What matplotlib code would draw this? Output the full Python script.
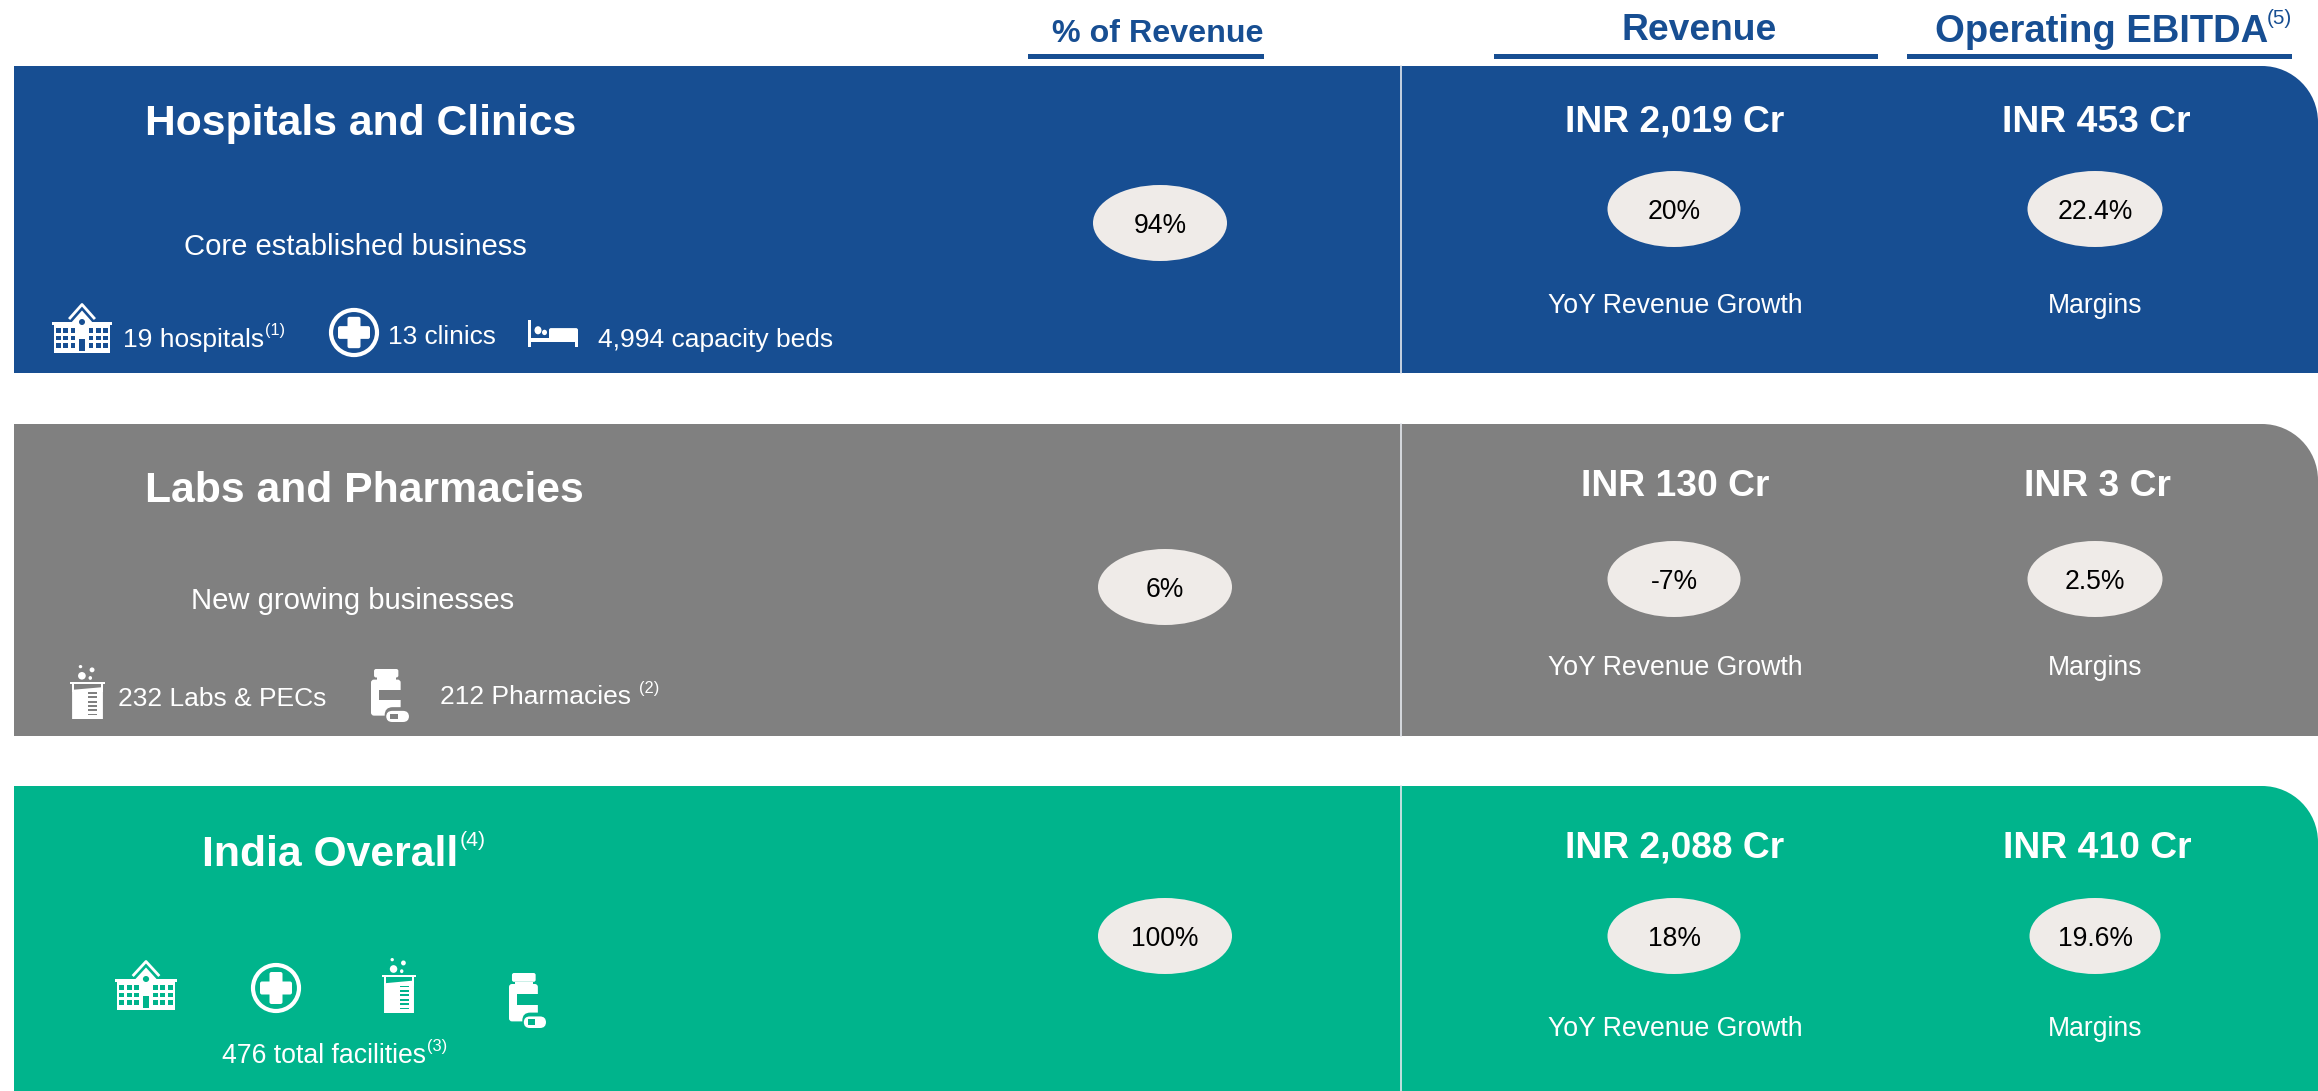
import matplotlib
matplotlib.use("Agg")
import matplotlib.pyplot as plt
from matplotlib.patches import Ellipse, FancyBboxPatch, PathPatch, Polygon, Rectangle
from matplotlib.path import Path

plt.rcParams["font.family"] = ["Liberation Sans", "DejaVu Sans"]

# ---------------------------------------
# Chart values
# ---------------------------------------

segments = ["Hospitals and Clinics", "Labs and Pharmacies", "India Overall"]
subtitles = ["Core established business", "New growing businesses", ""]
revenue_share = ["94%", "6%", "100%"]
revenue = ["INR 2,019 Cr", "INR 130 Cr", "INR 2,088 Cr"]
ebitda = ["INR 453 Cr", "INR 3 Cr", "INR 410 Cr"]
growth = ["20%", "-7%", "18%"]
margins = ["22.4%", "2.5%", "19.6%"]
growth_label = "YoY Revenue Growth"
margin_label = "Margins"

BLUE = "#174E92"
GRAY = "#808080"
GREEN = "#00B48C"
PILL = "#EFEBE8"
panel_colors = [BLUE, GRAY, GREEN]

W, H = 2318, 1091
PX = 0.72  # px to points at dpi 100

fig = plt.figure(figsize=(W / 100, H / 100), dpi=100)
ax = fig.add_axes([0, 0, 1, 1])
ax.set_xlim(0, W)
ax.set_ylim(H, 0)
ax.axis("off")
renderer = fig.canvas.get_renderer()


def put(x, y, s, px, color="white", weight="normal", ha="center", sup=None, sup_gap=1, sup_scale=0.62):
    t = ax.text(x, y, s, fontsize=px * PX, color=color, fontweight=weight,
                ha=ha, va="center_baseline", zorder=5)
    if sup:
        bb = t.get_window_extent(renderer)
        ax.text(bb.x1 + sup_gap, y - px * 0.3, sup, fontsize=px * sup_scale * PX, color=color,
                ha="left", va="center_baseline", zorder=5)
    return t


def panel(top, bottom, color):
    x0, x1, r = 14, W, 56
    k = 0.55 * r
    verts = [(x0, top), (x1 - r, top), (x1 - r + k, top), (x1, top + r - k), (x1, top + r),
             (x1, bottom), (x0, bottom), (x0, top)]
    codes = [Path.MOVETO, Path.LINETO, Path.CURVE4, Path.CURVE4, Path.CURVE4,
             Path.LINETO, Path.LINETO, Path.CLOSEPOLY]
    ax.add_patch(PathPatch(Path(verts, codes), fc=color, ec="none", zorder=1))
    ax.plot([1401, 1401], [top, bottom], color="#E4E8EE", lw=1.2, zorder=2)


def pill(x, y, w, h, s):
    ax.add_patch(Ellipse((x, y), w, h, fc=PILL, ec="none", zorder=3))
    ax.text(x, y, s, fontsize=26.5 * PX, color="black", ha="center", va="center_baseline", zorder=5)


# ---------------------------------------
# Icons, drawn in a 0-1 box
# ---------------------------------------

def boxer(x0, y0, x1, y1):
    return lambda u, v: (x0 + u * (x1 - x0), y0 + v * (y1 - y0))


def rect(m, u0, v0, u1, v1, color="white"):
    a = m(u0, v0)
    b = m(u1, v1)
    ax.add_patch(Rectangle(a, b[0] - a[0], b[1] - a[1], fc=color, ec="none", zorder=4))


def round_rect(m, u0, v0, u1, v1, pad, color="white"):
    a = m(u0, v0)
    b = m(u1, v1)
    ax.add_patch(FancyBboxPatch(a, b[0] - a[0], b[1] - a[1], boxstyle=f"round,pad=0,rounding_size={pad}",
                                fc=color, ec="none", zorder=4))


def oval(m, u, v, du, dv, fc="white", ec="none", lw=0):
    c = m(u, v)
    a = m(0, 0)
    b = m(1, 1)
    ax.add_patch(Ellipse(c, du * (b[0] - a[0]), dv * (b[1] - a[1]), fc=fc, ec=ec, lw=lw, zorder=4))


def hospital(x0, y0, x1, y1, bg):
    m = boxer(x0, y0, x1, y1)
    ax.plot(*zip(m(0.30, 0.30), m(0.50, 0.03), m(0.70, 0.30)), color="white", lw=2, zorder=4)
    ax.add_patch(Polygon([m(0.33, 0.38), m(0.50, 0.15), m(0.67, 0.38), m(0.67, 0.5), m(0.33, 0.5)],
                         fc="white", ec="none", zorder=4))
    rect(m, 0, 0.38, 1, 0.44)
    rect(m, 0.03, 0.44, 0.97, 1)
    oval(m, 0.5, 0.38, 0.1, 0.12, fc=bg)
    for u in [0.07, 0.19, 0.31, 0.61, 0.73, 0.85]:
        for v in [0.50, 0.65, 0.80]:
            rect(m, u, v, u + 0.08, v + 0.09, bg)
    rect(m, 0.45, 0.72, 0.55, 0.95, bg)


def clinic(x0, y0, x1, y1, bg):
    m = boxer(x0, y0, x1, y1)
    oval(m, 0.5, 0.5, 0.92, 0.92, fc=bg, ec="white", lw=3)
    round_rect(m, 0.18, 0.37, 0.82, 0.63, 2)
    round_rect(m, 0.37, 0.18, 0.63, 0.82, 2)


def bed(x0, y0, x1, y1, bg):
    m = boxer(x0, y0, x1, y1)
    rect(m, 0, 0, 0.06, 1)
    rect(m, 0.06, 0.68, 1, 0.80)
    rect(m, 0.94, 0.68, 1, 1)
    round_rect(m, 0.42, 0.30, 1, 0.80, 2)
    oval(m, 0.2, 0.38, 0.14, 0.3)
    oval(m, 0.33, 0.46, 0.1, 0.2)


def beaker(x0, y0, x1, y1, bg):
    m = boxer(x0, y0, x1, y1)
    oval(m, 0.30, 0.03, 0.1, 0.06)
    oval(m, 0.63, 0.09, 0.14, 0.09)
    oval(m, 0.34, 0.20, 0.22, 0.14)
    oval(m, 0.58, 0.24, 0.1, 0.07)
    rect(m, 0, 0.31, 1, 0.35)
    rect(m, 0.06, 0.35, 0.11, 0.50)
    rect(m, 0.89, 0.35, 0.94, 0.50)
    ax.add_patch(Polygon([m(0.06, 0.46), m(0.94, 0.41), m(0.94, 1), m(0.06, 1)], fc="white", ec="none", zorder=4))
    for v in [0.50, 0.58, 0.66, 0.74, 0.82, 0.90]:
        rect(m, 0.52, v, 0.78, v + 0.035, bg)


def bottle(x0, y0, x1, y1, bg):
    m = boxer(x0, y0, x1, y1)
    round_rect(m, 0.08, 0, 0.72, 0.16, 2)
    rect(m, 0.15, 0.16, 0.65, 0.21)
    round_rect(m, 0, 0.20, 0.78, 0.88, 3)
    rect(m, 0.22, 0.39, 0.78, 0.59, bg)
    round_rect(m, 0.36, 0.72, 1.02, 1.02, 8, bg)
    round_rect(m, 0.40, 0.79, 1, 1, 6)
    rect(m, 0.50, 0.84, 0.70, 0.95, bg)


# ---------------------------------------
# Column headers
# ---------------------------------------

put(1158, 31, "% of Revenue", 32.3, color=BLUE, weight="bold")
put(1699, 27, "Revenue", 37.3, color=BLUE, weight="bold")
put(1935, 28, "Operating EBITDA", 38.2, color=BLUE, weight="bold", ha="left", sup="(5)", sup_gap=-1, sup_scale=0.54)
for a, b in [(1028, 1264), (1494, 1878), (1907, 2292)]:
    ax.add_patch(Rectangle((a, 54), b - a, 5, fc=BLUE, ec="none"))

# ---------------------------------------
# Panels
# ---------------------------------------

tops = [66, 424, 786]
bottoms = [373, 736, H + 2]
head_y = [120, 486, 851]
inr_y = [118, 482, 844]
pill_y = [209, 579, 936]
share_y = [223, 587, 936]
share_x = [1160, 1165, 1165]
label_y = [303, 665, 1026]
rev_x = [1675, 1675, 1675]
ebitda_x = [2096, 2098, 2097]
margin_w = [135, 135, 131]

for i in range(3):
    panel(tops[i], bottoms[i], panel_colors[i])
    if i < 2:
        put(145, head_y[i], segments[i], 42.6, weight="bold", ha="left")
        put([355, 353][i], [244, 598][i], subtitles[i], 29.2)
    else:
        put(202, head_y[i], segments[i], 42.7, weight="bold", ha="left", sup="(4)", sup_scale=0.5)
    pill(share_x[i], share_y[i], 134, 76, revenue_share[i])
    put(rev_x[i], inr_y[i], revenue[i], 37.2, weight="bold")
    put(ebitda_x[i], inr_y[i], ebitda[i], 37.2, weight="bold")
    pill(1674, pill_y[i], 133, 76, growth[i])
    pill(2095, pill_y[i], margin_w[i], 76, margins[i])
    put(1675, label_y[i], growth_label, 26.6)
    put(2095, label_y[i], margin_label, 26.6)

# ---------------------------------------
# Facility counts and icons
# ---------------------------------------

hospital(52, 303, 112, 353, BLUE)
put(123, 337, "19 hospitals", 26.4, ha="left", sup="(1)")
clinic(329, 308, 379, 357, BLUE)
put(388, 335, "13 clinics", 26.2, ha="left")
bed(528, 320, 578, 347, BLUE)
put(598, 337, "4,994 capacity beds", 26.4, ha="left")

beaker(70, 665, 105, 719, GRAY)
put(118, 696, "232 Labs & PECs", 26.4, ha="left")
bottle(371, 669, 409, 722, GRAY)
put(440, 695, "212 Pharmacies", 26.4, ha="left", sup="(2)", sup_gap=8)

hospital(115, 960, 177, 1010, GREEN)
clinic(251, 963, 301, 1013, GREEN)
beaker(382, 958, 416, 1013, GREEN)
bottle(509, 973, 546, 1028, GREEN)
put(222, 1053, "476 total facilities", 26.6, ha="left", sup="(3)")

fig.savefig("out.png", dpi=100)
